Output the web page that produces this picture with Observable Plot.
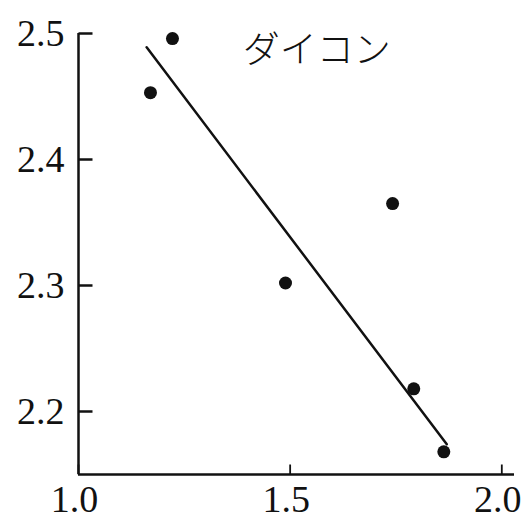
<!DOCTYPE html>
<html>
<head>
<meta charset="utf-8">
<script src="https://cdn.jsdelivr.net/npm/d3@7"></script>
<script src="https://cdn.jsdelivr.net/npm/@observablehq/plot@0.6"></script>
<style>
  html, body { margin: 0; padding: 0; background: #fff; }
  #chart svg { display: block; }
</style>
</head>
<body>
<div id="chart"></div>
<script>
// Observed samples
const xValues = [1.170, 1.222, 1.489, 1.742, 1.792, 1.863];
const yValues = [2.453, 2.496, 2.302, 2.365, 2.218, 2.168];

// Fitted line end points
const lineX = [1.161, 1.870];
const lineY = [2.489, 2.174];

// Axis ticks and extents
const xTicks = [1.0, 1.5, 2.0];
const yTicks = [2.2, 2.3, 2.4, 2.5];
const xDomain = [1.0, 2.03];
const yDomain = [2.15, 2.5];

const seriesLabel = "ダイコン";
const labelPos = {x: 1.563, y: 2.486};

const points = xValues.map((x, i) => ({x, y: yValues[i]}));
const fit = lineX.map((x, i) => ({x, y: lineY[i]}));

const serif = "'Liberation Serif', 'DejaVu Serif', serif";

const W = 528, H = 527;
const M = {left: 78, right: 14, top: 33, bottom: 53};
const innerW = W - M.left - M.right;
const innerH = H - M.top - M.bottom;

// inward tick lengths, in pixels, converted to data units
const yTickLen = 14, xTickLen = 10;
const xPerPx = (xDomain[1] - xDomain[0]) / innerW;
const yPerPx = (yDomain[1] - yDomain[0]) / innerH;
const yTickEnds = yTicks.map(y => ({y, x1: xDomain[0], x2: xDomain[0] + yTickLen * xPerPx}));
const xTickEnds = xTicks.map(x => ({x, y1: yDomain[0], y2: yDomain[0] + xTickLen * yPerPx}));

const chart = Plot.plot({
  width: W,
  height: H,
  marginLeft: M.left,
  marginRight: M.right,
  marginTop: M.top,
  marginBottom: M.bottom,
  style: {background: "#fff", color: "#111", overflow: "visible"},
  x: {domain: xDomain},
  y: {domain: yDomain},
  marks: [
    // tick labels
    Plot.axisY(yTicks, {tickSize: 0, tickPadding: 14, tickFormat: d3.format(".1f"),
      fontSize: 38, fontFamily: serif, fill: "#111", label: null}),
    Plot.axisX(xTicks, {tickSize: 0, tickPadding: 11, tickFormat: d3.format(".1f"),
      fontSize: 38, fontFamily: serif, fill: "#111", label: null, dx: -4}),
    // inward tick marks
    Plot.link(yTickEnds, {x1: "x1", x2: "x2", y1: "y", y2: "y", stroke: "#111", strokeWidth: 2.5}),
    Plot.link(xTickEnds, {x1: "x", x2: "x", y1: "y1", y2: "y2", stroke: "#111", strokeWidth: 1.8}),
    // axis lines
    Plot.ruleX([xDomain[0]], {y1: yDomain[0], y2: yDomain[1], stroke: "#111", strokeWidth: 2.5}),
    Plot.ruleY([yDomain[0]], {x1: xDomain[0], x2: xDomain[1], stroke: "#111", strokeWidth: 2.5}),
    // fitted line
    Plot.line(fit, {x: "x", y: "y", stroke: "#111", strokeWidth: 2.5}),
    // samples
    Plot.dot(points, {x: "x", y: "y", r: 6.5, fill: "#111", stroke: "none"}),
    // series label
    Plot.text([seriesLabel], {x: labelPos.x, y: labelPos.y, text: d => d,
      fontSize: 37, fontFamily: "'Noto Sans CJK JP', sans-serif", fontWeight: 300, fill: "#111",
      textAnchor: "middle"})
  ]
});

document.getElementById("chart").append(chart);
</script>
</body>
</html>
